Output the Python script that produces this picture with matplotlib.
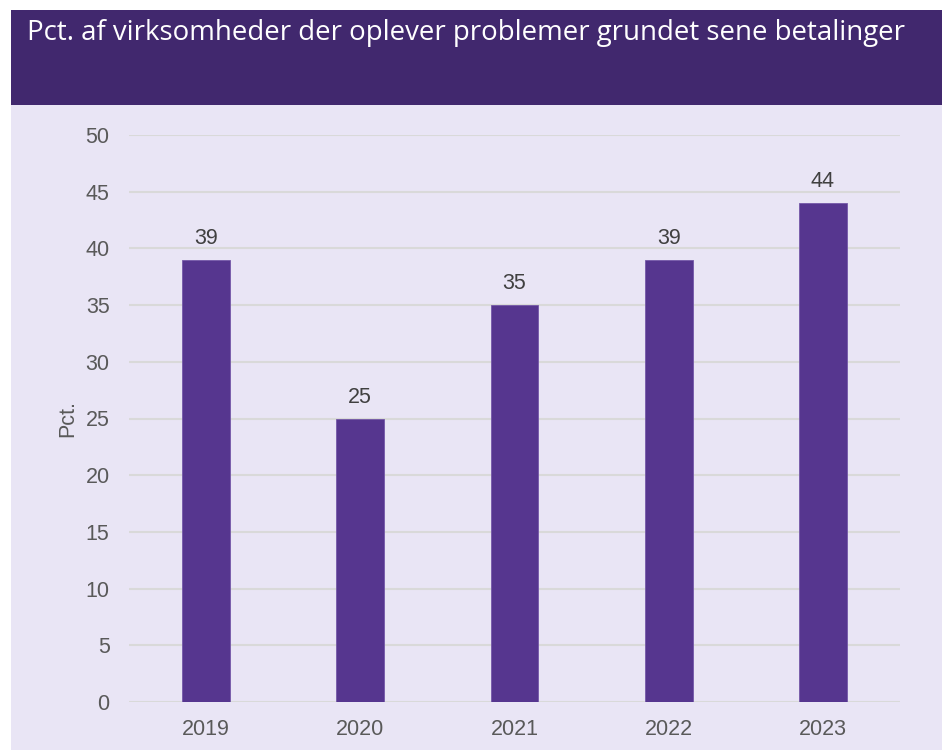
import matplotlib
matplotlib.use("Agg")
import matplotlib.pyplot as plt
from matplotlib.patches import Rectangle

years = ["2019", "2020", "2021", "2022", "2023"]
values = [39, 25, 35, 39, 44]
yticks = [0, 5, 10, 15, 20, 25, 30, 35, 40, 45, 50]
title = "Pct. af virksomheder der oplever problemer grundet sene betalinger"
ylabel = "Pct."

W, H = 942, 751
fig = plt.figure(figsize=(W / 100, H / 100), dpi=100)
fig.patch.set_facecolor("white")

# panels
fig.add_artist(Rectangle((11 / W, 1 - 750 / H), (W - 11) / W, (750 - 105) / H,
                         transform=fig.transFigure, facecolor="#E9E5F5", edgecolor="none", zorder=0))
fig.add_artist(Rectangle((11 / W, 1 - 105 / H), (W - 11) / W, 95 / H,
                         transform=fig.transFigure, facecolor="#41286E", edgecolor="none", zorder=0))
fig.text(27 / W, 1 - 33 / H, title, color="white", fontsize=19.9, family="Open Sans",
         va="center", ha="left")

x0, x1, ytop, ybot = 129, 900, 135, 702
ax = fig.add_axes([x0 / W, 1 - ybot / H, (x1 - x0) / W, (ybot - ytop) / H])
ax.set_facecolor("none")
ax.set_xlim(-0.5, 4.5)
ax.set_ylim(0, 50)
bars = ax.bar(range(len(years)), values, width=0.31, color="#56368F",
              edgecolor="#7458A8", linewidth=0.6, zorder=3)
for i, v in enumerate(values):
    ax.text(i, v + 0.95, str(v), ha="center", va="bottom", fontsize=15.5,
            color="#404040", family="Liberation Sans")
ax.set_yticks(yticks)
ax.set_xticks(range(len(years)))
ax.set_xticklabels(years)
for lab in ax.get_xticklabels() + ax.get_yticklabels():
    lab.set_family("Liberation Sans")
    lab.set_fontsize(15.5)
    lab.set_color("#595959")
ax.tick_params(length=0)
ax.tick_params(axis="x", pad=12)
ax.tick_params(axis="y", pad=14)
ax.grid(axis="y", color="#D9D9D9", linewidth=1.5, zorder=0)
for s in ax.spines.values():
    s.set_visible(False)
ax.set_ylabel(ylabel, fontsize=15.5, color="#595959", family="Liberation Sans", labelpad=5)

fig.savefig("out.png", dpi=100, facecolor=fig.get_facecolor())
